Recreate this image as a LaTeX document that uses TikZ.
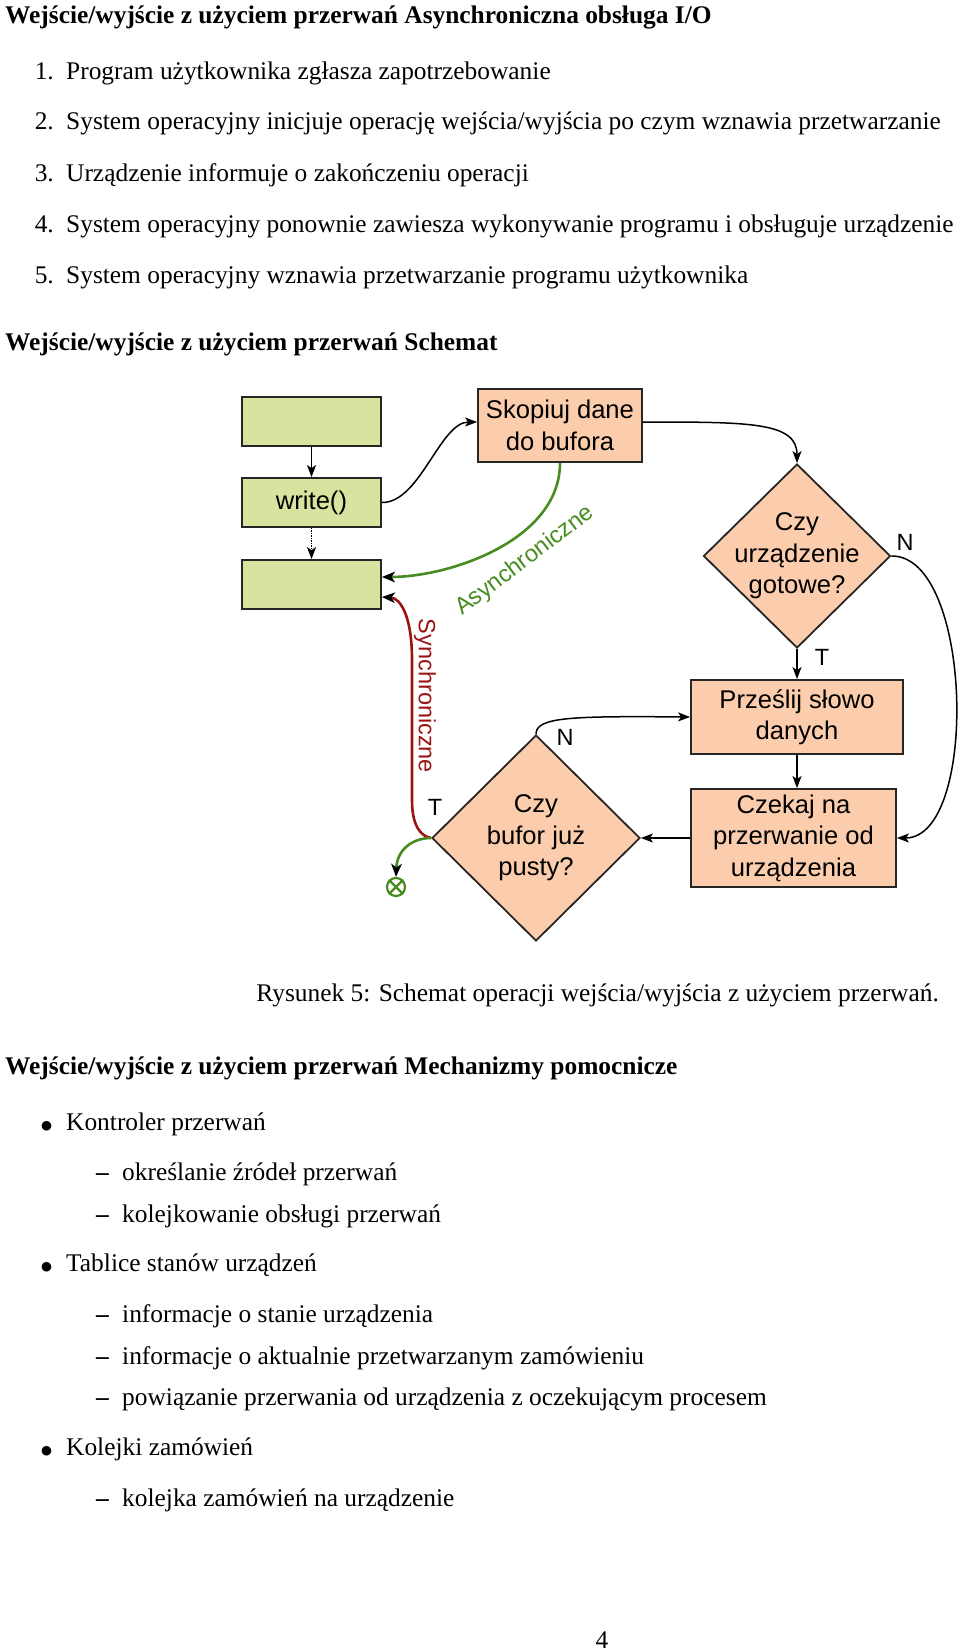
\documentclass[tikz,border=0pt]{standalone}
\usepackage{fontspec}
\setmainfont{Liberation Serif}
\setsansfont{Liberation Sans}
\usetikzlibrary{arrows.meta,shapes.geometric,calc}
\definecolor{boxgreen}{RGB}{215,228,160}
\definecolor{peach}{RGB}{251,205,172}
\definecolor{arrgreen}{RGB}{70,140,30}
\definecolor{arrred}{RGB}{155,20,20}
\begin{document}
\begin{tikzpicture}[x=1pt,y=-1pt,
  txt/.style={inner sep=0pt, font=\fontsize{25.4}{30}\selectfont},
  bul/.style={inner sep=0pt, font=\fontsize{33}{36}\selectfont},
  head/.style={inner sep=0pt, font=\fontsize{25.4}{30}\selectfont\bfseries},
  sfont/.style={font=\sffamily\fontsize{25.6}{31.5}\selectfont},
  lab/.style={inner sep=0pt, font=\sffamily\fontsize{23.5}{28}\selectfont},
  gbox/.style={draw=black!85, line width=1.8pt, fill=boxgreen, minimum width=139pt, minimum height=49pt, inner sep=0pt, sfont},
  pbox/.style={draw=black!85, line width=1.8pt, fill=peach, inner sep=0pt, align=center, sfont},
  dia/.style={diamond, draw=black!85, line width=1.8pt, fill=peach, inner sep=0pt},
  diatext/.style={align=center, inner sep=0pt, sfont},
  conn/.style={line width=1.5pt, -{Stealth[length=12pt,width=9pt,inset=3pt]}},
  garr/.style={line width=2.6pt, arrgreen, -{Stealth[length=13pt,width=10.5pt,inset=3.5pt,color=black]}},
  rarr/.style={line width=2.6pt, arrred, -{Stealth[length=13pt,width=10.5pt,inset=3.5pt,color=black]}}
]
\useasboundingbox (0,0) rectangle (960,1651);
\fill[white] (0,0) rectangle (960,1651);

% ---------- header and list ----------
\node[head, anchor=base west] (h1) at (5,24) {Wejście/wyjście z użyciem przerwań Asynchroniczna obsługa I/O};
\node[txt, anchor=base east] (n1) at (54,80) {1.};
\node[txt, anchor=base west] (i1) at (66,80) {Program użytkownika zgłasza zapotrzebowanie};
\node[txt, anchor=base east] (n2) at (54,130) {2.};
\node[txt, anchor=base west] (i2) at (66,130) {System operacyjny inicjuje operację wejścia/wyjścia po czym wznawia przetwarzanie};
\node[txt, anchor=base east] (n3) at (54,181) {3.};
\node[txt, anchor=base west] (i3) at (66,181) {Urządzenie informuje o zakończeniu operacji};
\node[txt, anchor=base east] (n4) at (54,232) {4.};
\node[txt, anchor=base west] (i4) at (66,232) {System operacyjny ponownie zawiesza wykonywanie programu i obsługuje urządzenie};
\node[txt, anchor=base east] (n5) at (54,283) {5.};
\node[txt, anchor=base west] (i5) at (66,283) {System operacyjny wznawia przetwarzanie programu użytkownika};
\node[head, anchor=base west] (h2) at (5,350) {Wejście/wyjście z użyciem przerwań Schemat};

% ---------- diagram ----------
\node[gbox] (g1) at (311.5,421.5) {};
\node[gbox] (g2) at (311.5,502.5) {write()};
\node[gbox] (g3) at (311.5,584.5) {};
\node[pbox, minimum width=164pt, minimum height=73pt] (skop) at (560,425.5) {Skopiuj dane\\do bufora};
\node[dia, minimum width=187pt, minimum height=184pt] (d1) at (797,556) {};
\node[diatext] (d1t) at (797,556) {Czy\\urządzenie\\gotowe?};
\node[pbox, minimum width=212pt, minimum height=74pt] (prz) at (797,717) {Prześlij słowo\\danych};
\node[pbox, minimum width=205pt, minimum height=98pt] (czek) at (793.5,838) {Czekaj na\\przerwanie od\\urządzenia};
\node[dia, minimum width=208pt, minimum height=206pt] (d2) at (536,838) {};
\node[diatext] (d2t) at (536,838) {Czy\\bufor już\\pusty?};
\node[circle, draw=arrgreen, line width=2.2pt, minimum size=18pt, inner sep=0pt] (endx) at (396,887) {};
\draw[arrgreen, line width=2.2pt] (endx.north west) -- (endx.south east) (endx.north east) -- (endx.south west);

% labels
\node[lab, text=arrgreen, rotate=37] (asy) at (525,561) {Asynchroniczne};
\node[lab, text=arrred, rotate=-90] (syn) at (425,696) {Synchroniczne};
\node[lab] (n1lab) at (905,542) {N};
\node[lab] (t1lab) at (822,657) {T};
\node[lab] (n2lab) at (565,737) {N};
\node[lab] (t2lab) at (435,807) {T};

% connectors
\draw[conn] (g1.south) -- (g2.north);
\draw[conn, densely dotted] (g2.south) -- (g3.north);
\draw[conn] (g2.east) .. controls (420,503) and (440,422) .. ([yshift=3.5pt]skop.west);
\draw[conn] ([yshift=3.5pt]skop.east) .. controls (750,422) and (797,422) .. (d1.north);
\draw[garr] (skop.south) .. controls (560,540) and (450,577) .. ([yshift=7.5pt]g3.east);
\draw[rarr] (d2.west) .. controls (420,836) and (412,825) .. (412,800) -- (412,660) .. controls (412,615) and (400,598) .. ([yshift=-12.5pt]g3.east);
\draw[garr] (d2.west) .. controls (412,838) and (397,850) .. (endx.north);
\draw[conn] (d1.south) -- (prz.north);
\draw[conn] (prz.south) -- (prz.south |- czek.north);
\draw[conn] (d2.north) .. controls (536,717) and (571,716) .. (prz.west);
\draw[conn] (czek.west) -- (d2.east);
\draw[conn] (d1.east) .. controls (973,555) and (979,838) .. (czek.east);

% ---------- caption and second list ----------
\node[txt, anchor=base east] (cap) at (939,1001) {Rysunek 5: Schemat operacji wejścia/wyjścia z użyciem przerwań.};
\node[head, anchor=base west] (h3) at (5,1074) {Wejście/wyjście z użyciem przerwań Mechanizmy pomocnicze};

\node[bul, anchor=base] (b1) at (46.5,1132) {$\bullet$};
\node[txt, anchor=base west] (bt1) at (66,1130) {Kontroler przerwań};
\node[txt, anchor=base east] (s1) at (109,1180) {\bfseries –};
\node[txt, anchor=base west] (st1) at (122,1180) {określanie źródeł przerwań};
\node[txt, anchor=base east] (s2) at (109,1222) {\bfseries –};
\node[txt, anchor=base west] (st2) at (122,1222) {kolejkowanie obsługi przerwań};

\node[bul, anchor=base] (b2) at (46.5,1273) {$\bullet$};
\node[txt, anchor=base west] (bt2) at (66,1271) {Tablice stanów urządzeń};
\node[txt, anchor=base east] (s3) at (109,1322) {\bfseries –};
\node[txt, anchor=base west] (st3) at (122,1322) {informacje o stanie urządzenia};
\node[txt, anchor=base east] (s4) at (109,1364) {\bfseries –};
\node[txt, anchor=base west] (st4) at (122,1364) {informacje o aktualnie przetwarzanym zamówieniu};
\node[txt, anchor=base east] (s5) at (109,1405) {\bfseries –};
\node[txt, anchor=base west] (st5) at (122,1405) {powiązanie przerwania od urządzenia z oczekującym procesem};

\node[bul, anchor=base] (b3) at (46.5,1457) {$\bullet$};
\node[txt, anchor=base west] (bt3) at (66,1455) {Kolejki zamówień};
\node[txt, anchor=base east] (s6) at (109,1506) {\bfseries –};
\node[txt, anchor=base west] (st6) at (122,1506) {kolejka zamówień na urządzenie};

\node[txt, anchor=base] (pg) at (602,1648) {4};
\end{tikzpicture}
\end{document}
